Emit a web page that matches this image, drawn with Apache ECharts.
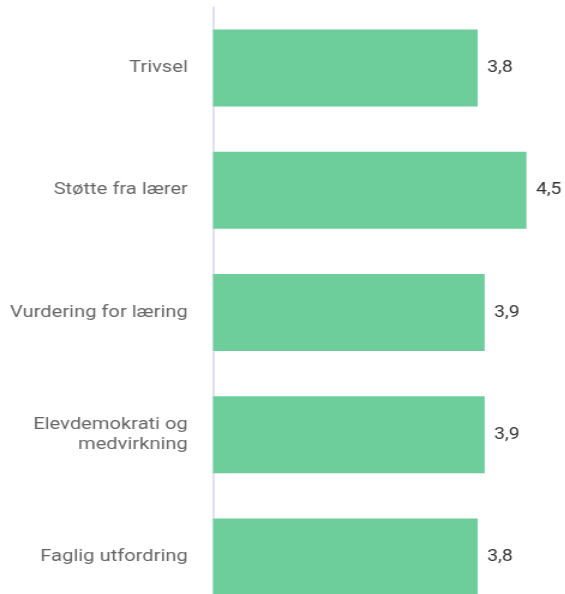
<!DOCTYPE html>
<html>
<head>
<meta charset="utf-8">
<script src="https://cdn.jsdelivr.net/npm/echarts@6/dist/echarts.min.js"></script>
<style>
  html, body { margin: 0; padding: 0; background: #fff; overflow: hidden; }
  /* The chart is laid out narrower and widened 1.2x, giving the broad lettering */
  #chart {
    width: 470.83px;
    height: 594px;
    transform: scaleX(1.2);
    transform-origin: 0 0;
  }
</style>
</head>
<body>
<div id="chart"></div>
<script>
// Indicator names and average scores
const categories = [
  'Trivsel',
  'Støtte fra lærer',
  'Vurdering for læring',
  'Elevdemokrati og\nmedvirkning',
  'Faglig utfordring'
];
const scores = [3.8, 4.5, 3.9, 3.9, 3.8];

const chart = echarts.init(document.getElementById('chart'));
chart.setOption({
  animation: false,
  grid: {
    left: 177.5,
    right: 3.3,
    top: 7,
    bottom: -24,
    containLabel: false,
    outerBoundsMode: 'none'
  },
  xAxis: {
    type: 'value',
    min: 0,
    max: 5,
    show: false
  },
  yAxis: {
    type: 'category',
    data: categories,
    inverse: true,
    axisTick: { show: false },
    axisLine: { show: true, lineStyle: { color: '#d6d6ee', width: 1.5 } },
    axisLabel: {
      margin: 21,
      color: '#666',
      fontFamily: 'Roboto',
      fontSize: 16.8,
      lineHeight: 20,
      align: 'right'
    }
  },
  series: [{
    type: 'bar',
    data: scores,
    barCategoryGap: '37%',
    itemStyle: { color: '#6dce9c' },
    label: {
      show: true,
      position: 'right',
      distance: 8,
      color: '#333',
      fontFamily: 'Roboto',
      fontSize: 16,
      formatter: p => p.value.toFixed(1).replace('.', ',')
    }
  }]
});
</script>
</body>
</html>
